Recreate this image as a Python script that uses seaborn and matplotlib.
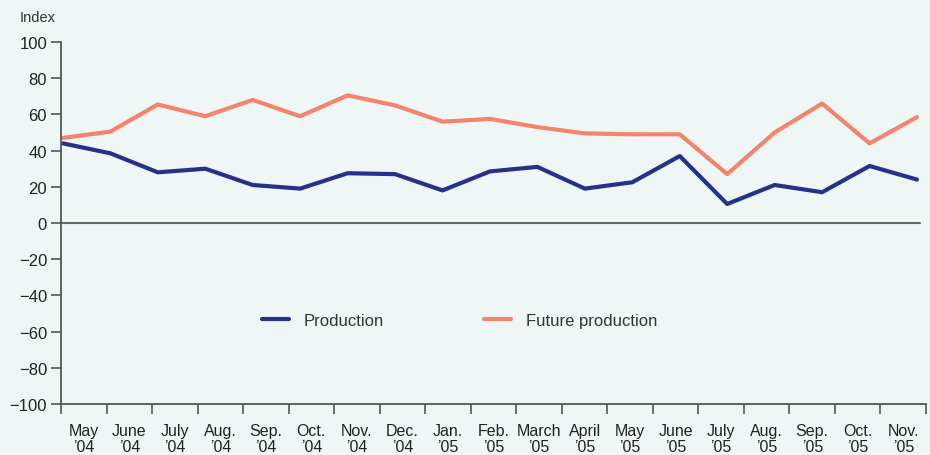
import numpy as np
import pandas as pd
import matplotlib
matplotlib.use("Agg")
import matplotlib.pyplot as plt
import seaborn as sns

months = ["May\n’04", "June\n’04", "July\n’04", "Aug.\n’04", "Sep.\n’04", "Oct.\n’04",
          "Nov.\n’04", "Dec.\n’04", "Jan.\n’05", "Feb.\n’05", "March\n’05", "April\n’05",
          "May\n’05", "June\n’05", "July\n’05", "Aug.\n’05", "Sep.\n’05", "Oct.\n’05", "Nov.\n’05"]
production = [44, 38.5, 28, 30, 21, 19, 27.5, 27, 18, 28.5, 31, 19, 22.5, 37, 10.5, 21, 17, 31.5, 24]
future_production = [47, 50.5, 65.5, 59, 68, 59, 70.5, 65, 56, 57.5, 53, 49.5, 49, 49, 27, 50, 66, 44, 58.5]
y_ticks = list(range(-100, 101, 20))

BG = "#EEF7F6"
NAVY = "#25318A"
SALMON = "#F4846C"

sns.set_style("ticks")
plt.rcParams["font.family"] = ["Liberation Sans", "DejaVu Sans"]

df = pd.DataFrame({
    "pos": list(range(len(months))) * 2,
    "value": production + future_production,
    "series": ["Production"] * len(months) + ["Future production"] * len(months),
})

fig = plt.figure(figsize=(9.30, 4.56), dpi=100, facecolor=BG)
ax = fig.add_axes([61 / 930, 1 - 405 / 456, 865 / 930, 362 / 456])
ax.set_facecolor(BG)

sns.lineplot(data=df, x="pos", y="value", hue="series",
             palette={"Production": NAVY, "Future production": SALMON},
             linewidth=3, ax=ax, legend=True)

x0, x1 = -0.04, 18.19
ax.set_xlim(x0, x1)
ax.set_ylim(-100, 100)
ax.axhline(0, xmin=0, xmax=0.993, color="#666666", lw=1.5, zorder=1)

bounds = np.linspace(x0, x1, len(months) + 1)
ax.set_xticks(bounds)
ax.set_xticklabels([])
ax.set_xticks((bounds[:-1] + bounds[1:]) / 2, minor=True)
ax.set_xticklabels(months, minor=True, fontsize=11.5, color="#222222", linespacing=1.1)
ax.tick_params(axis="x", which="major", length=7, width=1.2, color="#555555", direction="out")
ax.tick_params(axis="x", which="minor", length=0, pad=13.5)

ax.set_yticks(y_ticks)
ax.set_yticklabels([str(v).replace("-", "\u2212") for v in y_ticks], fontsize=12, color="#222222")
ax.tick_params(axis="y", length=7, width=1.2, color="#555555", direction="out", pad=3)

for s in ["top", "right"]:
    ax.spines[s].set_visible(False)
for s in ["left", "bottom"]:
    ax.spines[s].set_color("#555555")
    ax.spines[s].set_linewidth(1.3)

ax.set_xlabel("")
ax.set_ylabel("")

handles, labels = ax.get_legend_handles_labels()
ax.legend(handles, labels, ncol=2, frameon=False, loc="center",
          bbox_to_anchor=(0.461, 0.23), fontsize=12, handlelength=1.6,
          handletextpad=0.9, columnspacing=6.0, labelcolor="#333333")

fig.text(20 / 930, 1 - 18 / 456, "Index", fontsize=10.5, color="#333333", va="center", ha="left")

fig.savefig("out.png", dpi=100, facecolor=BG)
